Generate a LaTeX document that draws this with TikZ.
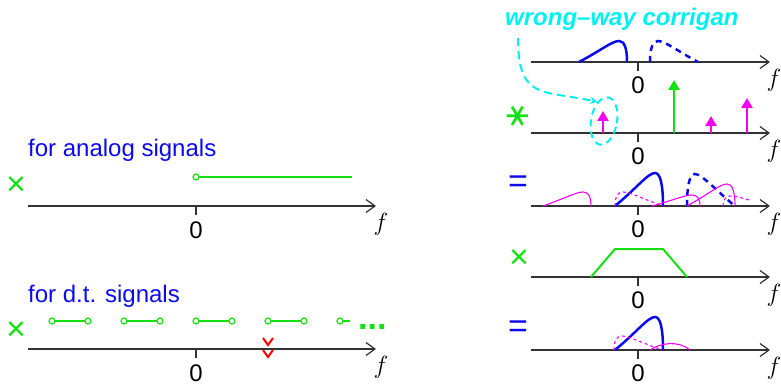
\documentclass[tikz,border=0pt]{standalone}
\usepackage{fontspec}
\setmainfont{Liberation Sans}
\newfontfamily\symfont{DejaVu Sans}
\usetikzlibrary{arrows.meta,shapes.geometric,positioning,calc}
\definecolor{sgreen}{RGB}{20,225,20}
\definecolor{sblue}{RGB}{10,10,235}
\definecolor{scyan}{RGB}{0,240,240}
\definecolor{smag}{RGB}{245,0,245}
\tikzset{
  axis/.style={draw=black!80, line width=1.2pt, -{Straight Barb[length=9pt,width=13pt,line width=1.2pt]}},
  tick/.style={draw=black!80, line width=1.2pt},
  big/.style={font=\fontsize{24}{28}\selectfont, inner sep=0pt},
  lbl/.style={big, text=sblue},
  opsym/.style={font=\fontsize{34}{36}\selectfont, inner sep=0pt},
  hole/.style={draw=sgreen, line width=1.2pt, fill=white},
  bspec/.style={draw=sblue, line width=2.5pt},
  mspecline/.style={draw=smag, line width=1.1pt},
  imp/.style={line width=2.4pt, -{Triangle[length=10pt,width=11pt]}}
}
% spectrum shape: style, x0, y0, height (width 48)
\newcommand\spec[4]{\draw[#1] (#2,#3) .. controls +(22,-0.55*#4) and +(-7,0) .. ++(40,-#4) .. controls +(5,0) and +(0,-0.7*#4) .. ++(8,#4);}
\newcommand\mspec[4]{\draw[#1] (#2,#3) .. controls +(0,-0.7*#4) and +(-5,0) .. ++(8,-#4) .. controls +(7,0) and +(-18,-0.45*#4) .. ++(40,#4);}

\begin{document}
\begin{tikzpicture}[x=1pt,y=-1pt]
\useasboundingbox (0,0) rectangle (781,385);

% left: analog
\node[lbl, anchor=base west] (ana) at (28,157) {for analog signals};
\node[opsym, text=sgreen] (mul1) at (16,186) {×};
\coordinate (a1s) at (28,206);
\coordinate (a1e) at (376,206);
\draw[axis] (a1s) -- (a1e);
\draw[tick] (196,206) -- (196,215);
\node[big] (z1) at (196,230) {0};
\node[big] (f1) at (381,224) {$f$};
\draw[sgreen, line width=2pt] (199,177) -- (352,177);
\draw[hole] (196,177) circle (3);

% left: d.t.
\node[lbl, anchor=base west] (dt) at (28,302) {for d.t. signals};
\node[opsym, text=sgreen] (mul2) at (16,331) {×};
\coordinate (a2s) at (28,349);
\coordinate (a2e) at (376,349);
\draw[axis] (a2s) -- (a2e);
\draw[tick] (196,349) -- (196,358);
\node[big] (z2) at (196,373) {0};
\node[big] (f2) at (381,367) {$f$};
\foreach \x in {52,124,196,268} {
  \draw[sgreen, line width=2pt] (\x,321) -- (\x+36,321);
  \draw[hole] (\x,321) circle (3);
  \draw[hole] (\x+36,321) circle (3);
}
\draw[sgreen, line width=2pt] (340,321) -- (350,321);
\draw[hole] (340,321) circle (3);
\node[opsym, text=sgreen, anchor=base west] (dots) at (358,329) {\textbf{...}};
\draw[red, line width=2pt] (263,338) -- (268,345) -- (273,338);
\draw[red, line width=2pt] (263,350) -- (268,357) -- (273,350);

% right column axes
\foreach \y/\n in {62/r1,133/r2,206/r3,277/r4,350/r5} {
  \draw[axis] (531,\y) -- (770,\y);
  \draw[tick] (638,\y) -- (638,\y+9);
  \node[big] (z\n) at (638,\y+23) {0};
  \node[big] (f\n) at (774,\y+18) {$f$};
}

% row 1
\node[big, text=scyan, anchor=base west] (wwc) at (505,26) {\bfseries\itshape wrong–way corrigan};
\spec{bspec}{579}{62}{21}
\mspec{bspec, dash pattern=on 6pt off 5pt}{650}{62}{21}

% row 2
\node[inner sep=0pt, text=sgreen, rotate=90, font=\symfont\fontsize{34}{34}\selectfont] (conv) at (518,116) {∗};
\draw[imp, sgreen] (674,133) -- (674,80);
\draw[imp, smag] (603,133) -- (603,111);
\draw[imp, smag] (711,133) -- (711,116);
\draw[imp, smag] (747,133) -- (747,98);
\node[draw=scyan, line width=2pt, ellipse, minimum width=26pt, minimum height=48pt, rotate=-10, dash pattern=on 7pt off 5pt] (alias) at (604,121) {};
\draw[scyan, line width=2pt, dash pattern=on 8pt off 5pt, -{Stealth[length=7pt,width=7pt]}]
  ($(wwc.south west)+(13,7)$) .. controls +(0,62) and +(-55,-12) .. (alias.north west);

% row 3
\node[opsym, text=sblue] (eq1) at (518,184) {=};
\spec{mspecline}{543}{206}{14}
\spec{bspec}{615}{206}{33}
\mspec{mspecline, dashed}{615}{206}{14}
\mspec{bspec, dash pattern=on 6pt off 5pt}{687}{206}{32}
\spec{mspecline}{652}{206}{11}
\spec{mspecline}{687}{206}{22}
\begin{scope}
  \clip (700,150) rectangle (751,210);
  \mspec{mspecline, dashed}{723}{206}{10}
\end{scope}

% row 4
\node[opsym, text=sgreen] (mul3) at (519,259) {×};
\draw[sgreen, line width=2pt] (591,277) -- (615,249) -- (663,249) -- (687,277);

% row 5
\node[opsym, text=sblue] (eq2) at (518,329) {=};
\spec{bspec}{615}{350}{33}
\mspec{mspecline, dashed}{614}{350}{14}
\draw[mspecline] (650,350) .. controls (660,343) and (678,340) .. (690,350);
\end{tikzpicture}
\end{document}
